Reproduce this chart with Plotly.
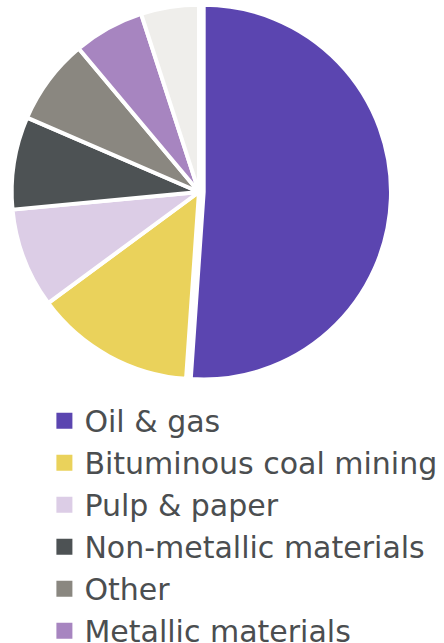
import plotly.graph_objects as go

categories = [
    "Oil & gas",
    "Bituminous coal mining",
    "Pulp & paper",
    "Non-metallic materials",
    "Other",
    "Metallic materials",
    "Chemicals",
]
shares = [51.1, 13.8, 8.6, 8.0, 7.4, 6.1, 5.0]
colors = ["#5B45B0", "#EAD25B", "#DCCDE6", "#4D5254", "#8A8780", "#A785C0", "#EFEEEB"]
pulls = [0.025, 0, 0, 0, 0, 0, 0]

fig = go.Figure()
fig.add_trace(
    go.Pie(
        labels=categories,
        values=shares,
        sort=False,
        direction="clockwise",
        rotation=0,
        pull=pulls,
        textinfo="none",
        showlegend=False,
        marker=dict(colors=colors, line=dict(color="white", width=4)),
        domain=dict(x=[7 / 444, 391 / 444], y=[1 - 384 / 643, 1.0]),
    )
)

# legend entries (square swatches) built from the same category/colour lists
for name, col in zip(categories, colors):
    fig.add_trace(
        go.Scatter(
            x=[None],
            y=[None],
            mode="markers",
            name=name,
            marker=dict(symbol="square", size=16, color=col),
            showlegend=True,
            hoverinfo="skip",
        )
    )

fig.update_layout(
    width=444,
    height=643,
    margin=dict(l=0, r=0, t=0, b=0, autoexpand=False),
    paper_bgcolor="white",
    plot_bgcolor="white",
    xaxis=dict(visible=False),
    yaxis=dict(visible=False),
    font=dict(family="DejaVu Sans", color="#4B4E50"),
    legend=dict(
        x=0.1,
        y=0.3862,
        xanchor="left",
        yanchor="top",
        font=dict(size=30, family="DejaVu Sans", color="#4B4E50"),
        bgcolor="rgba(0,0,0,0)",
        itemsizing="trace",
        itemclick=False,
        itemdoubleclick=False,
    ),
    showlegend=True,
)

fig.write_html(
    "out.html",
    config={"displayModeBar": False},
    post_script="document.body.style.margin='0';",
)
